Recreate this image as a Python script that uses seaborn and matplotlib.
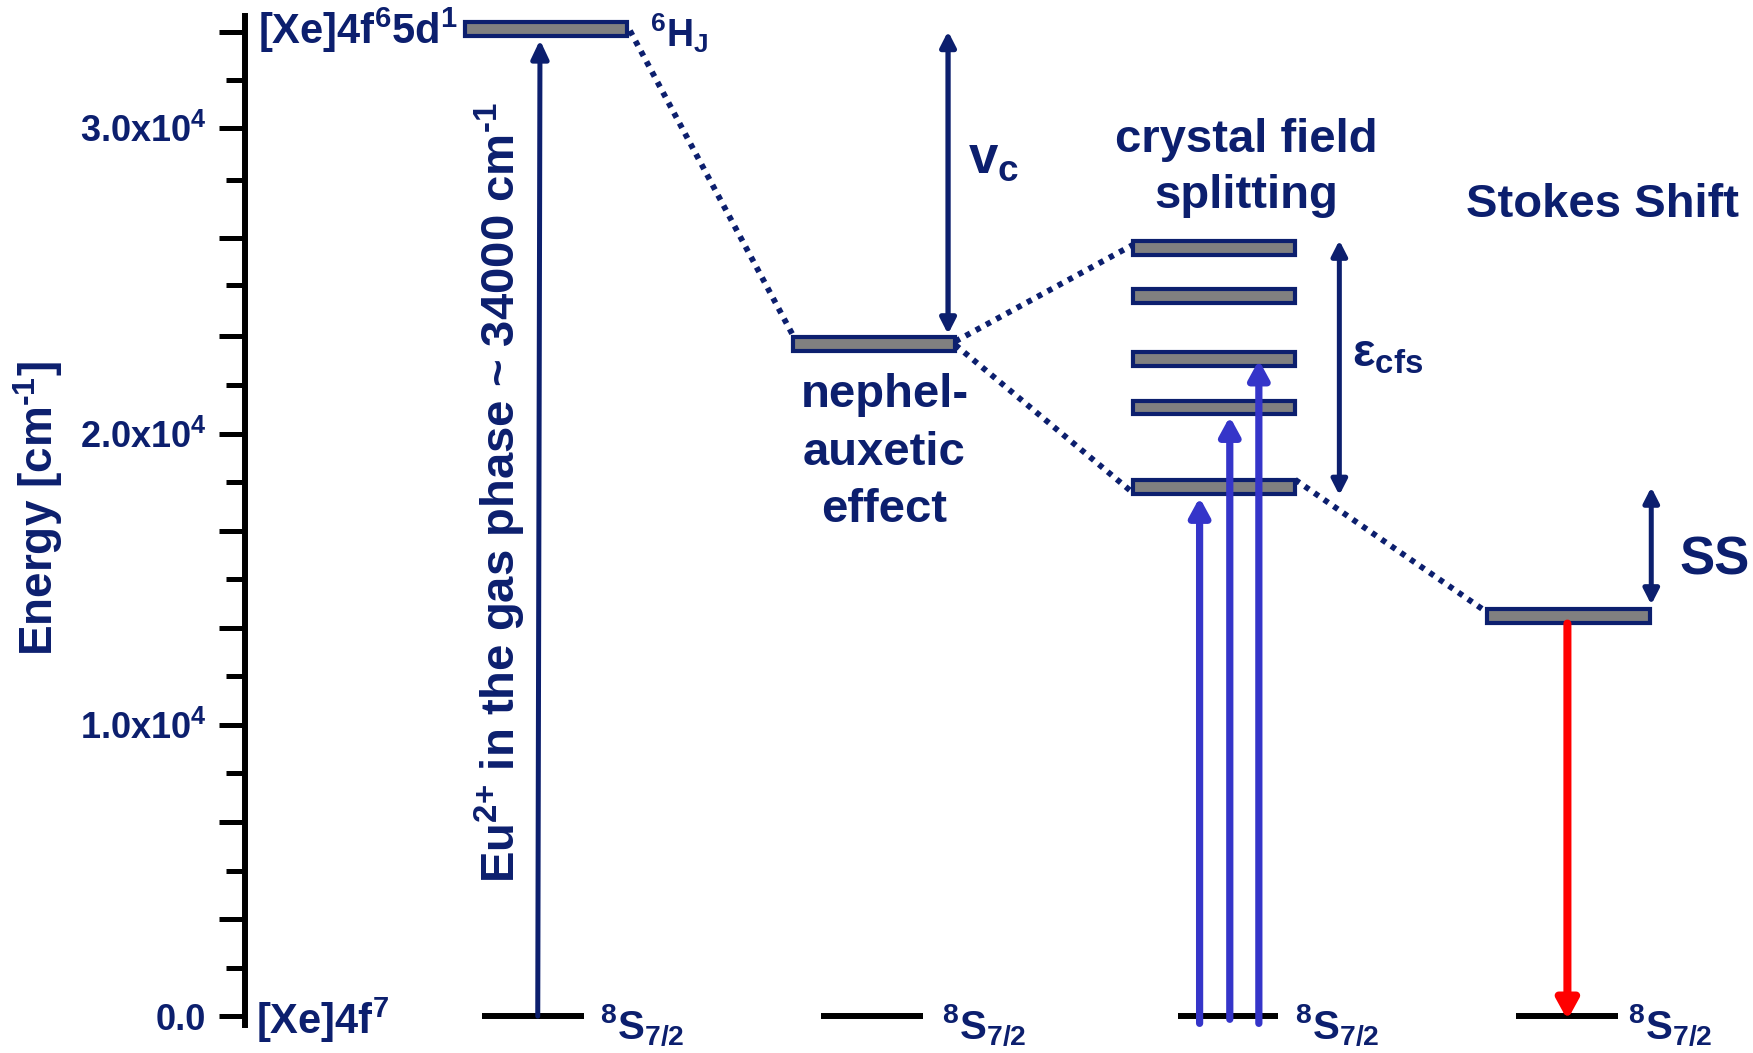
import matplotlib
matplotlib.use("Agg")
import matplotlib.pyplot as plt
import seaborn as sns
from matplotlib.patches import ArrowStyle
from matplotlib.ticker import FixedLocator

# ---------------- data (energies in cm^-1) ----------------
ground_energy = 0
gas_level = 33900                      # [Xe]4f65d1 (6H_J) free ion
neph_level = 23090                     # after nephelauxetic effect
cfs_levels = [26390, 24720, 22550, 20900, 18160]   # crystal field split levels
stokes_level = 13740                   # relaxed emitting level
excitation_starts = [-250, -110, -250]
excitation_tips = [17810, 20590, 22530]
emission_start, emission_end = 13480, -130
gas_arrow = (0, 33520)
vc_arrow = (33820, 23420)
cfs_arrow = (26640, 17890)
ss_arrow = (18160, 14130)

major_ticks = [0, 3333, 6667, 10000, 13333, 16667, 20000, 23360, 26710, 30510, 33810]
minor_ticks = [1667, 5000, 8333, 11667, 15000, 18333, 21670, 25090, 28700, 32150]
label_ticks = [0, 10000, 20000, 30510]
tick_labels = ["0.0", "1.0x10$^{4}$", "2.0x10$^{4}$", "3.0x10$^{4}$"]

# ---------------- style ----------------
sns.set_theme(style="white")
plt.rcParams["font.family"] = ["Liberation Sans", "DejaVu Sans"]
plt.rcParams["font.weight"] = "bold"
plt.rcParams["mathtext.fontset"] = "custom"
for k in ("rm", "it", "bf", "sf"):
    plt.rcParams["mathtext." + k] = "Liberation Sans:bold"
plt.rcParams["mathtext.default"] = "rm"

NAVY = "#0c1f6e"
GREY = "#808080"
BLUE = "#3535c9"
RED = "#ff0000"

fig = plt.figure(figsize=(17.53, 10.53), dpi=100)
ax = fig.add_axes([0, 0, 1, 1])
ax.set_xlim(0, 1568)
ax.set_ylim(-1267, 34894)
ax.set_facecolor("white")
fig.patch.set_facecolor("white")

# layout columns (horizontal positions of the diagram columns)
col_gas, col_neph, col_cfs, col_ss = 488, 782, 1086, 1403
BAR_W, BAR_H = 145, 480

# ---------------- levels ----------------
bar_x = [col_gas, col_neph] + [col_cfs] * len(cfs_levels) + [col_ss]
bar_e = [gas_level, neph_level] + cfs_levels + [stokes_level]
ax.bar(bar_x, [BAR_H] * len(bar_e), bottom=[e - BAR_H / 2 for e in bar_e],
       width=BAR_W, color=GREY, edgecolor=NAVY, linewidth=3.0, zorder=3)

g_left = [431, 734, 1054, 1356]
g_right = [522, 826, 1143, 1447]
ax.hlines([ground_energy] * 4, g_left, g_right, colors="black",
          linewidth=4.3, capstyle="butt", zorder=3)

# ---------------- dotted connectors ----------------
dot = dict(color=NAVY, lw=4.2, linestyle=(0, (0.9, 1.1)), dash_capstyle="butt", zorder=2)
hw = BAR_W / 2
ax.plot([col_gas + hw + 3, col_neph - hw + 1], [gas_level - 60, neph_level + 200], **dot)
ax.plot([col_neph + hw, col_cfs - hw], [neph_level + 80, cfs_levels[0] + 100], **dot)
ax.plot([col_neph + hw, col_cfs - hw - 2], [neph_level - 40, cfs_levels[-1] - 130], **dot)
ax.plot([col_cfs + hw, col_ss - hw - 2], [cfs_levels[-1] + 260, stokes_level + 170], **dot)


def arrow(x0, y0, x1, y1, color, lw, hl, hwid, style="-|>"):
    ax.annotate("", xy=(x1, y1), xytext=(x0, y0),
                arrowprops=dict(arrowstyle=ArrowStyle(style, head_length=hl, head_width=hwid),
                                color=color, lw=lw, shrinkA=0, shrinkB=0,
                                mutation_scale=1), zorder=4)


# gas phase absorption
arrow(481, gas_arrow[0], 483, gas_arrow[1], NAVY, 3.6, 11, 5.2)
# double arrows
arrow(848, vc_arrow[1], 848, vc_arrow[0], NAVY, 3.8, 9, 4.6, "<|-|>")
arrow(1198, cfs_arrow[1], 1198, cfs_arrow[0], NAVY, 3.6, 9, 4.6, "<|-|>")
arrow(1477, ss_arrow[1], 1477, ss_arrow[0], NAVY, 3.6, 9, 4.6, "<|-|>")
# excitation arrows
for x, s, t in zip([1073, 1100, 1126], excitation_starts, excitation_tips):
    arrow(x, s, x, t, BLUE, 5.2, 11, 6.0)
# emission
arrow(1402, emission_start, 1402, emission_end, RED, 5.8, 11.5, 6.3)

# ---------------- axis ----------------
for s in ("top", "right", "bottom"):
    ax.spines[s].set_visible(False)
ax.spines["left"].set_position(("data", 219))
ax.spines["left"].set_bounds(-300, 34350)
ax.spines["left"].set_linewidth(4.3)
ax.spines["left"].set_color("black")
ax.set_xticks([])
ax.yaxis.set_major_locator(FixedLocator(major_ticks))
ax.yaxis.set_minor_locator(FixedLocator(minor_ticks))
ax.set_yticklabels([tick_labels[label_ticks.index(t)] if t in label_ticks else ""
                    for t in major_ticks])
ax.tick_params(axis="y", which="both", left=True, direction="out", color="black")
ax.tick_params(axis="y", which="major", length=18.7, width=3.6, pad=9,
               labelsize=26, labelcolor=NAVY)
ax.tick_params(axis="y", which="minor", length=13.7, width=3.6)
ax.grid(False)

# ---------------- texts ----------------
T = dict(color=NAVY, fontweight="bold")
ax.text(47.4, 17430, r"Energy [cm$^{\text{-}1}$]", fontsize=33, rotation=90,
        rotation_mode="anchor", ha="center", va="baseline", **T)
ax.text(231, 33380, "[Xe]4f$^{6}$5d$^{1}$", fontsize=30, ha="left", va="baseline", **T)
ax.text(581, 33280, "$^{6}$H$_{J}$", fontsize=27, ha="left", va="baseline", **T)
ax.text(229, -614, "[Xe]4f$^{7}$", fontsize=30, ha="left", va="baseline", **T)
for x in [537, 843, 1158, 1456]:
    ax.text(x, -806, "$^{8}$S$_{7/2}$", fontsize=29, ha="left", va="baseline", **T)
ax.text(460.6, 4568, r"Eu$^{2\text{+}}$ in the gas phase ~ 34000 cm$^{\text{-}1}$",
        fontsize=34, rotation=90, rotation_mode="anchor", ha="left", va="baseline", **T)
ax.text(866, 28955, "$v_{c}$", fontsize=38, ha="left", va="baseline", **T)
for line, e in zip(["nephel-", "auxetic", "effect"], [20930, 18925, 16980]):
    ax.text(791, e, line, fontsize=34, ha="center", va="baseline", **T)
for line, e in zip(["crystal field", "splitting"], [29685, 27760]):
    ax.text(1115, e, line, fontsize=34, ha="center", va="baseline", **T)
ax.text(1433, 27455, "Stokes Shift", fontsize=34, ha="center", va="baseline", **T)
ax.text(1209, 22300, "$ε_{cfs}$", fontsize=34, ha="left", va="baseline", **T)
ax.text(1502, 15160, "SS", fontsize=38, ha="left", va="baseline", **T)

fig.savefig("out.png", dpi=100, facecolor="white")
